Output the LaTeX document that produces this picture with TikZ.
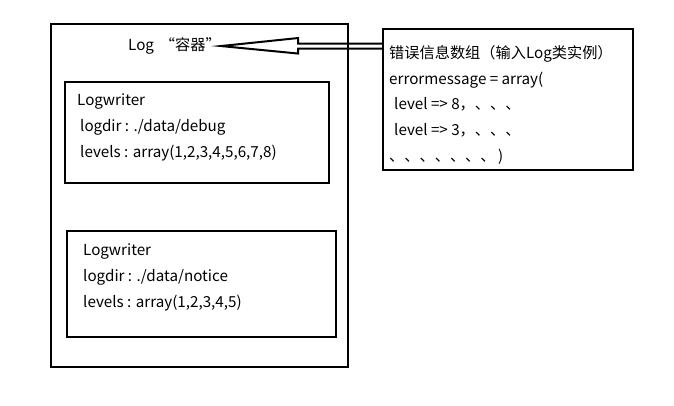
\documentclass[tikz,border=0pt]{standalone}
\usepackage{fontspec}
\setmainfont{Noto Sans CJK SC}
\usetikzlibrary{positioning, calc}
\tikzstyle{bound} = [rectangle, draw=black, line width=2.4pt, inner sep=0pt, outer sep=0pt, anchor=north west]
\tikzstyle{txt} = [align=left, anchor=north west, inner sep=0pt, font=\fontsize{15.2}{26}\selectfont]
\tikzstyle{arrow} = [line width=2pt, line join=miter]

\begin{document}
\begin{tikzpicture}[x=1pt, y=-1pt]
    \useasboundingbox (0,0) rectangle (674,405);
    \node (log) [bound, minimum width=297, minimum height=343] at (51,24) {};
    \node (debug) [bound, minimum width=264, minimum height=101] at (65,82) {};
    \node (notice) [bound, minimum width=269, minimum height=106] at (67,231) {};
    \node (err) [bound, minimum width=250, minimum height=141] at (383,29) {};
    \node (title) [txt] at (128,37.5) {Log \,“容器”};
    \node (t1) [txt] at (77,94)
      {Logwriter\\\hspace{3pt}logdir : ./data/debug\\\hspace{3pt}levels : array(1,2,3,4,5,6,7,8)};
    \node (t2) [txt] at (83,243.5)
      {Logwriter\\logdir : ./data/notice\\levels : array(1,2,3,4,5)};
    \node (t3) [txt, font=\fontsize{15.2}{25.8}\selectfont] at (389,45)
      {错误信息数组（输入Log类实例）\\errormessage = array(\\\hspace{5pt}level => 8，、、、\\\hspace{5pt}level => 3，、、、\\、、、、、、、\,)};
    \coordinate (shaft) at (err.north west |- title.east);
    \draw [arrow] ($(shaft)+(0,-2.5)$) -- ++(-85,0) -- ++(0,-5.5) -- (title.east)
      -- ($(shaft)+(-85,7.5)$) -- ++(0,-5) -- ($(shaft)+(0,2.5)$);
\end{tikzpicture}
\end{document}
